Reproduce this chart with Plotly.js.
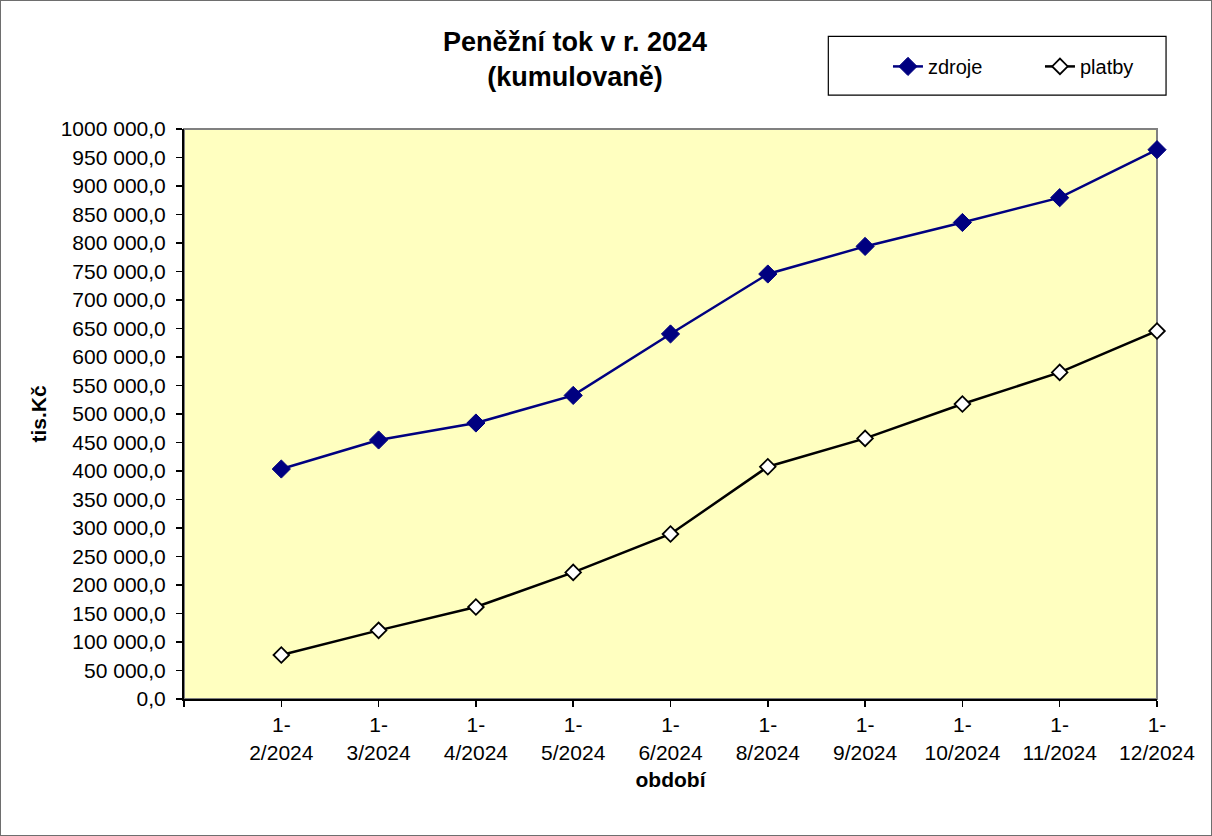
<!DOCTYPE html>
<html>
<head>
<meta charset="utf-8">
<script src="https://cdn.plot.ly/plotly-3.0.1.min.js"></script>
<style>
  html, body { margin: 0; padding: 0; background: #fff; }
  #chart { width: 1210px; height: 834px; border: 1px solid #6e6e6e; }
</style>
</head>
<body>
<div id="chart"></div>
<script>
// ---- data ----
const categories = ["1-2/2024", "1-3/2024", "1-4/2024", "1-5/2024", "1-6/2024",
                    "1-8/2024", "1-9/2024", "1-10/2024", "1-11/2024", "1-12/2024"];
const zdroje = [403500, 454400, 484200, 532600, 640400, 745600, 794000, 836000, 879500, 963700];
const platby = [77200, 120400, 161400, 222100, 289500, 407500, 457200, 517500, 573000, 645600];
const yTickValues = [0, 50000, 100000, 150000, 200000, 250000, 300000, 350000, 400000, 450000,
                     500000, 550000, 600000, 650000, 700000, 750000, 800000, 850000, 900000, 950000, 1000000];
const yTickLabels = ["0,0", "50 000,0", "100 000,0", "150 000,0", "200 000,0", "250 000,0",
                     "300 000,0", "350 000,0", "400 000,0", "450 000,0", "500 000,0", "550 000,0",
                     "600 000,0", "650 000,0", "700 000,0", "750 000,0", "800 000,0", "850 000,0",
                     "900 000,0", "950 000,0", "1000 000,0"];
const titleText = "Peněžní tok v r. 2024<br>(kumulovaně)";
const xTitle = "období";
const yTitle = "tis.Kč";

// ---- build ----
const xIdx = categories.map((c, i) => i);
const xTickVals = [-1].concat(xIdx);
const xTickText = [""].concat(categories.map(c => c.replace("-", "-<br>")));

const FONT = "Arial, 'Liberation Sans', sans-serif";

const traces = [
  {
    x: xIdx, y: zdroje, name: "zdroje", type: "scatter", mode: "lines+markers",
    line: { color: "#000080", width: 2.5 },
    marker: { symbol: "diamond", size: 14, color: "#000080", line: { color: "#000080", width: 1 } },
    cliponaxis: false
  },
  {
    x: xIdx, y: platby, name: "platby", type: "scatter", mode: "lines+markers",
    line: { color: "#000000", width: 2.5 },
    marker: { symbol: "diamond", size: 12, color: "#ffffff", line: { color: "#000000", width: 1.8 } },
    cliponaxis: false
  }
];

const layout = {
  width: 1210, height: 834,
  margin: { l: 183, r: 54, t: 128, b: 136 },
  paper_bgcolor: "#ffffff",
  plot_bgcolor: "#ffffc0",
  font: { family: FONT, size: 21, color: "#000" },
  showlegend: true,
  title: {
    text: titleText,
    font: { family: FONT, size: 27, color: "#000", weight: "bold" },
    xref: "container", x: 0.4744, xanchor: "center",
    yref: "container", y: 0.94, yanchor: "top"
  },
  xaxis: {
    range: [-1, 9],
    tickmode: "array", tickvals: xTickVals, ticktext: xTickText,
    ticks: "outside", ticklen: 6, tickwidth: 1.5, tickcolor: "#000",
    showline: true, linecolor: "#000", linewidth: 2,
    showgrid: false, zeroline: false,
    tickfont: { family: FONT, size: 21, color: "#000" },
    title: { text: xTitle, font: { family: FONT, size: 21, color: "#000", weight: "bold" }, standoff: 10 },
    fixedrange: true
  },
  yaxis: {
    range: [0, 1000000],
    tickmode: "array", tickvals: yTickValues, ticktext: yTickLabels,
    ticks: "outside", ticklen: 6, tickwidth: 1.5, tickcolor: "#000",
    ticklabelstandoff: 6,
    showline: true, linecolor: "#000", linewidth: 2,
    showgrid: false, zeroline: false,
    tickfont: { family: FONT, size: 21, color: "#000" },
    title: { text: yTitle, font: { family: FONT, size: 21, color: "#000", weight: "bold" }, standoff: 8 },
    fixedrange: true
  },
  legend: {
    orientation: "h",
    x: 0.7235, xanchor: "left",
    y: 1.1098, yanchor: "middle",
    bgcolor: "rgba(0,0,0,0)", borderwidth: 0,
    font: { family: FONT, size: 20, color: "#000" },
    entrywidth: 107, entrywidthmode: "pixels",
    traceorder: "normal"
  },
  shapes: [
    // plot-area frame (gray top/right)
    { type: "rect", xref: "paper", yref: "paper", x0: 0, x1: 1, y0: 0, y1: 1,
      line: { color: "#808080", width: 2 }, fillcolor: "rgba(0,0,0,0)", layer: "below" },
    // legend box
    { type: "rect", xref: "paper", yref: "paper", x0: 0.6622, x1: 1.0093, y0: 1.0596, y1: 1.1625,
      line: { color: "#000", width: 1.2 }, fillcolor: "rgba(0,0,0,0)" }
  ]
};

Plotly.newPlot("chart", traces, layout, { displayModeBar: false, staticPlot: true });
</script>
</body>
</html>
